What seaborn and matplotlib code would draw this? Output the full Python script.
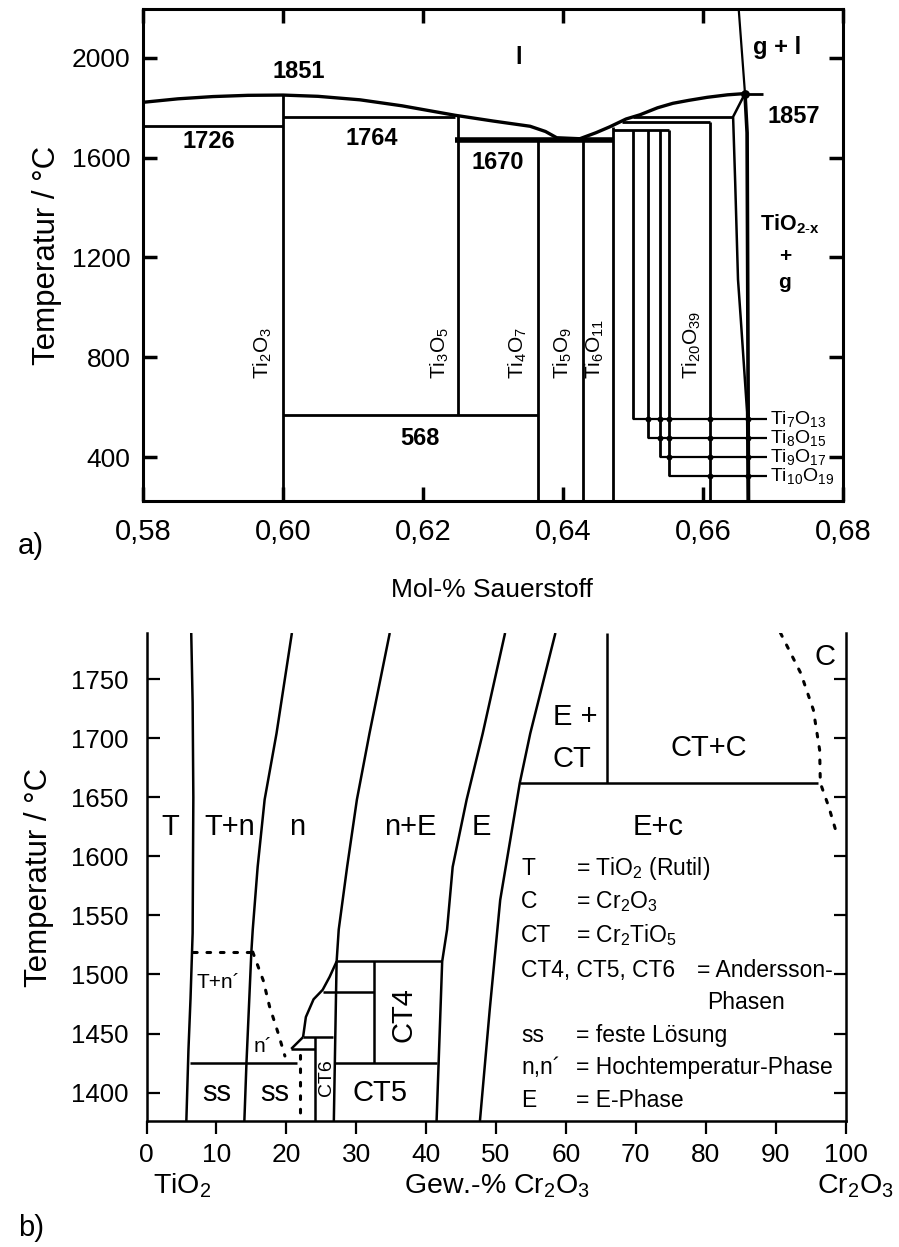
import matplotlib
matplotlib.use("Agg")
import matplotlib.pyplot as plt
import seaborn as sns

sns.set_style("ticks")
plt.rcParams["font.family"] = ["Liberation Sans", "DejaVu Sans"]
plt.rcParams["mathtext.fontset"] = "custom"
plt.rcParams["mathtext.rm"] = "Liberation Sans"
plt.rcParams["mathtext.it"] = "Liberation Sans:italic"
plt.rcParams["mathtext.bf"] = "Liberation Sans:bold"
for key in ["text.color", "axes.labelcolor", "xtick.color", "ytick.color",
            "axes.edgecolor"]:
    plt.rcParams[key] = "black"

# ---------------- a) Ti-O system ----------------
top_xticks = [0.58, 0.60, 0.62, 0.64, 0.66, 0.68]
top_xlabels = ["0,58", "0,60", "0,62", "0,64", "0,66", "0,68"]
top_yticks = [400, 800, 1200, 1600, 2000]

# liquidus
liq_x = [0.580, 0.585, 0.590, 0.595, 0.600, 0.605, 0.611, 0.617, 0.6246, 0.630,
         0.6353, 0.6375, 0.6391, 0.6424, 0.6447, 0.6467, 0.6490, 0.6510, 0.6535,
         0.6557, 0.6580, 0.6606, 0.6635, 0.6660]
liq_T = [1822, 1836, 1845, 1850, 1851, 1846, 1832, 1808, 1770, 1747,
         1726, 1705, 1680, 1676, 1700, 1724, 1755, 1772, 1800,
         1818, 1830, 1842, 1852, 1857]

# gas / liquid boundary
gas_x = [0.6651, 0.6660]
gas_T = [2196, 1857]

# TiO2-x boundaries
rutA_x = [0.6660, 0.6663, 0.6664, 0.6665]
rutA_T = [1857, 1700, 1000, 224]
rutB_x = [0.6660, 0.6643, 0.6646, 0.6650, 0.6654, 0.6663, 0.6664]
rutB_T = [1857, 1764, 1500, 1112, 952, 580, 224]

# Magneli phases: composition, lower and upper temperature
phase_names = ["Ti$_\\mathregular{2}$O$_\\mathregular{3}$",
               "Ti$_\\mathregular{3}$O$_\\mathregular{5}$",
               "Ti$_\\mathregular{4}$O$_\\mathregular{7}$",
               "Ti$_\\mathregular{5}$O$_\\mathregular{9}$",
               "Ti$_\\mathregular{6}$O$_\\mathregular{11}$",
               "Ti$_\\mathregular{20}$O$_\\mathregular{39}$"]
phase_x = [0.6000, 0.6250, 0.6364, 0.6429, 0.6471, 0.6610]
phase_lo = [224, 568, 224, 224, 224, 224]
phase_hi = [1851, 1770, 1670, 1670, 1725, 1744]
phase_label_x = [0.5971, 0.6224, 0.6336, 0.6400, 0.6446, 0.6584]

hi_names = ["Ti$_\\mathregular{7}$O$_\\mathregular{13}$",
            "Ti$_\\mathregular{8}$O$_\\mathregular{15}$",
            "Ti$_\\mathregular{9}$O$_\\mathregular{17}$",
            "Ti$_\\mathregular{10}$O$_\\mathregular{19}$"]
hi_x = [0.6500, 0.6522, 0.6538, 0.6552]
hi_lo = [551, 477, 401, 325]
hi_top = 1712
leader_end = 0.6691

# invariant lines: (x start, x end, temperature, linewidth)
inv_x0 = [0.580, 0.600, 0.6246, 0.600, 0.6471, 0.6484, 0.6500, 0.6660]
inv_x1 = [0.600, 0.6246, 0.6471, 0.6364, 0.6552, 0.6610, 0.6643, 0.6686]
inv_T = [1726, 1764, 1670, 568, 1712, 1744, 1764, 1857]
inv_lw = [2, 2, 4, 2, 2, 2, 2, 2]

# ---------------- b) TiO2-Cr2O3 system ----------------
bot_xticks = list(range(0, 101, 10))
bot_yticks = [1400, 1450, 1500, 1550, 1600, 1650, 1700, 1750]

b1_w = [6.4, 6.6, 6.7, 6.6, 6.3, 6.0, 5.7]
b1_T = [1789, 1730, 1650, 1535, 1480, 1436, 1376]
b2_w = [20.8, 18.6, 16.9, 15.9, 15.2, 15.0, 14.3, 14.0]
b2_T = [1789, 1704, 1648, 1591, 1538, 1519, 1425, 1376]
b3_w = [34.8, 31.9, 30.1, 28.7, 27.5, 27.2, 27.1, 26.8]
b3_T = [1789, 1704, 1648, 1591, 1538, 1511, 1479, 1376]
b4_w = [51.3, 48.1, 45.8, 43.8, 43.0, 42.3, 41.5]
b4_T = [1789, 1704, 1648, 1591, 1538, 1511, 1376]
b5_w = [58.5, 54.9, 53.4, 50.6, 49.1, 47.7]
b5_T = [1789, 1704, 1662, 1563, 1470, 1376]
ct_curve_w = [22.4, 22.8, 23.9, 25.2, 26.2, 27.2]
ct_curve_T = [1447, 1464, 1479, 1487, 1498, 1511]
c_dot_w = [90.7, 93.6, 95.4, 96.3, 96.4, 97.6, 98.6]
c_dot_T = [1789, 1755, 1724, 1690, 1662, 1642, 1622]
np_dot_w = [15.2, 16.7, 17.6, 18.8, 19.8]
np_dot_T = [1519, 1495, 1473, 1451, 1431]

# horizontal solid lines: w start, w end, T
bh_w0 = [53.4, 6.2, 26.8, 27.2, 25.2, 22.4, 20.7]
bh_w1 = [96.1, 21.6, 41.5, 42.3, 32.5, 26.7, 24.1]
bh_T = [1662, 1425, 1425, 1511, 1485, 1447, 1437]
# vertical solid lines: w, T low, T high
bv_w = [65.9, 24.1, 32.5]
bv_lo = [1662, 1376, 1425]
bv_hi = [1789, 1447, 1511]

legend_keys = ["T", "C", "CT", "CT4, CT5, CT6", "", "ss", "n,n\u00b4", "E"]
legend_vals = ["= TiO$_\\mathregular{2}$ (Rutil)", "= Cr$_\\mathregular{2}$O$_\\mathregular{3}$",
               "= Cr$_\\mathregular{2}$TiO$_\\mathregular{5}$", "= Andersson-", "Phasen",
               "= feste L\u00f6sung", "= Hochtemperatur-Phase", "= E-Phase"]

fig = plt.figure(figsize=(8.99, 12.47), dpi=100)
ax1 = fig.add_axes([143 / 899, 1 - 501 / 1247, 700 / 899, 492 / 1247])
ax2 = fig.add_axes([146.5 / 899, 1 - 1121 / 1247, 699 / 899, 488 / 1247])


def seg(ax, xs, ys, lw=2.0, ls="-"):
    sns.lineplot(x=list(xs), y=list(ys), ax=ax, sort=False, estimator=None,
                 color="black", linewidth=lw, linestyle=ls, legend=False,
                 solid_capstyle="butt", dash_capstyle="round")


# ---- panel a ----
seg(ax1, liq_x, liq_T, 2.4)
seg(ax1, gas_x, gas_T, 1.6)
seg(ax1, rutA_x, rutA_T, 2.6)
seg(ax1, rutB_x, rutB_T, 1.8)
for x, lo, hi in zip(phase_x, phase_lo, phase_hi):
    seg(ax1, [x, x], [lo, hi], 2.0)
for x, lo in zip(hi_x, hi_lo):
    seg(ax1, [x, x], [lo, hi_top], 2.0)
    seg(ax1, [x, leader_end], [lo, lo], 1.6)
    crossings = [c for c in hi_x + [0.6610, 0.6664] if c > x]
    sns.scatterplot(x=crossings, y=[lo] * len(crossings), ax=ax1, color="black",
                    s=18, marker="o", linewidth=0, legend=False)
for x0, x1, T, lw in zip(inv_x0, inv_x1, inv_T, inv_lw):
    seg(ax1, [x0, x1], [T, T], lw)
sns.scatterplot(x=[0.6660], y=[1857], ax=ax1, color="black", s=40,
                linewidth=0, legend=False)

ax1.set_xlim(0.58, 0.68)
ax1.set_ylim(224, 2196)
ax1.set_xticks(top_xticks)
ax1.set_xticklabels(top_xlabels)
ax1.set_yticks(top_yticks)
ax1.set_yticklabels([str(v) for v in top_yticks])
ax1.tick_params(direction="in", length=10, width=2.5, top=True, right=True,
                bottom=True, left=True)
ax1.tick_params(axis="x", labelsize=21, pad=12)
ax1.tick_params(axis="y", labelsize=19, pad=9)
for s in ax1.spines.values():
    s.set_linewidth(2.2)
ax1.set_xlabel("")
ax1.set_ylabel("Temperatur / \u00b0C", fontsize=22.5, labelpad=7)

bold = dict(fontsize=17, fontweight="bold", ha="center", va="center")
ax1.text(0.6022, 1945, "1851", **bold)
ax1.text(0.5894, 1665, "1726", **bold)
ax1.text(0.6127, 1675, "1764", **bold)
ax1.text(0.6307, 1580, "1670", **bold)
ax1.text(0.6196, 475, "568", **bold)
ax1.text(0.6336, 2000, "l", **bold)
ax1.text(0.6672, 2040, "g + l", ha="left", va="center", fontsize=17,
          fontweight="bold")
ax1.text(0.6729, 1764, "1857", **bold)
ax1.text(0.6724, 1332, "TiO$_\\mathregular{2\\text{-}x}$", ha="center", va="center",
          fontsize=15.5, fontweight="bold")
ax1.text(0.6717, 1204, "+", ha="center", va="center", fontsize=15, fontweight="bold")
ax1.text(0.6717, 1100, "g", ha="center", va="center", fontsize=15, fontweight="bold")

for name, lx in zip(phase_names, phase_label_x):
    ax1.text(lx, 712, name, rotation=90, ha="center", va="bottom", fontsize=15)
for name, lo in zip(hi_names, hi_lo):
    ax1.text(leader_end + 0.0004, lo, name, ha="left", va="center", fontsize=14)

fig.text(18 / 899, 1 - 546 / 1247, "a)", fontsize=21, ha="left", va="center")
fig.text(492 / 899, 1 - 590 / 1247, "Mol-% Sauerstoff", fontsize=19,
         ha="center", va="center")

# ---- panel b ----
for w, T in [(b1_w, b1_T), (b2_w, b2_T), (b3_w, b3_T), (b4_w, b4_T), (b5_w, b5_T),
             (ct_curve_w, ct_curve_T)]:
    seg(ax2, w, T, 1.8)
for w0, w1, T in zip(bh_w0, bh_w1, bh_T):
    seg(ax2, [w0, w1], [T, T], 1.8)
for w, lo, hi in zip(bv_w, bv_lo, bv_hi):
    seg(ax2, [w, w], [lo, hi], 1.8)
seg(ax2, [20.7, 22.4], [1437, 1447], 1.8)
dot = (0, (1.2, 3.2))
seg(ax2, c_dot_w, c_dot_T, 2.2, dot)
seg(ax2, [6.6, 15.0], [1519, 1519], 2.2, dot)
seg(ax2, np_dot_w, np_dot_T, 2.2, dot)
seg(ax2, [22.0, 22.0], [1432, 1383], 2.2, dot)

ax2.set_xlim(0, 100)
ax2.set_ylim(1376, 1789)
ax2.set_xticks(bot_xticks)
ax2.set_xticklabels([str(v) for v in bot_xticks], fontsize=19)
ax2.set_yticks(bot_yticks)
ax2.set_yticklabels([str(v) for v in bot_yticks], fontsize=18.5)
ax2.spines["top"].set_visible(False)
for s in ["left", "right", "bottom"]:
    ax2.spines[s].set_linewidth(1.8)
ax2.tick_params(axis="y", direction="in", length=9, width=1.6, left=True,
                right=True, pad=13)
ax2.tick_params(axis="x", direction="out", length=9, width=1.6, bottom=True,
                top=False, pad=7)
ax2.set_xlabel("")
ax2.set_ylabel("Temperatur / \u00b0C", fontsize=22.5, labelpad=12)

reg = dict(fontsize=21, ha="center", va="center")
ax2.text(3.4, 1625, "T", **reg)
ax2.text(11.9, 1625, "T+n", **reg)
ax2.text(21.5, 1625, "n", **reg)
ax2.text(37.7, 1625, "n+E", **reg)
ax2.text(47.9, 1625, "E", **reg)
ax2.text(61.3, 1718, "E +", **reg)
ax2.text(60.9, 1682, "CT", **reg)
ax2.text(80.4, 1692, "CT+C", **reg)
ax2.text(73.2, 1625, "E+c", **reg)
ax2.text(97.0, 1769, "C", **reg)
ax2.text(10.0, 1400, "ss", **reg)
ax2.text(18.3, 1400, "ss", **reg)
ax2.text(33.4, 1400, "CT5", **reg)
ax2.text(36.7, 1466, "CT4", rotation=90, **reg)
ax2.text(25.8, 1413, "CT6", rotation=90, fontsize=14, ha="center", va="center")
ax2.text(10.3, 1493, "T+n\u00b4", fontsize=15, ha="center", va="center")
ax2.text(16.6, 1439, "n\u00b4", fontsize=15, ha="center", va="center")

leg_T = [1590, 1562, 1533, 1503, 1476, 1448, 1421, 1393]
for key, val, T in zip(legend_keys, legend_vals, leg_T):
    if key:
        ax2.text(53.6, T, key, fontsize=16.5, ha="left", va="center")
    if val == "Phasen":
        ax2.text(80.2, T, val, fontsize=16.5, ha="left", va="center")
    elif key.startswith("CT4"):
        ax2.text(78.7, T, val, fontsize=16.5, ha="left", va="center")
    else:
        ax2.text(61.5, T, val, fontsize=16.5, ha="left", va="center")

fig.text(182 / 899, 1 - 1186 / 1247, "TiO$_\\mathregular{2}$", fontsize=20.5,
         ha="center", va="center")
fig.text(497 / 899, 1 - 1186 / 1247, "Gew.-% Cr$_\\mathregular{2}$O$_\\mathregular{3}$",
         fontsize=20.5, ha="center", va="center")
fig.text(855 / 899, 1 - 1186 / 1247, "Cr$_\\mathregular{2}$O$_\\mathregular{3}$",
         fontsize=20.5, ha="center", va="center")
fig.text(18 / 899, 1 - 1228 / 1247, "b)", fontsize=21, ha="left", va="center")

fig.savefig("out.png", dpi=100, facecolor="white")
